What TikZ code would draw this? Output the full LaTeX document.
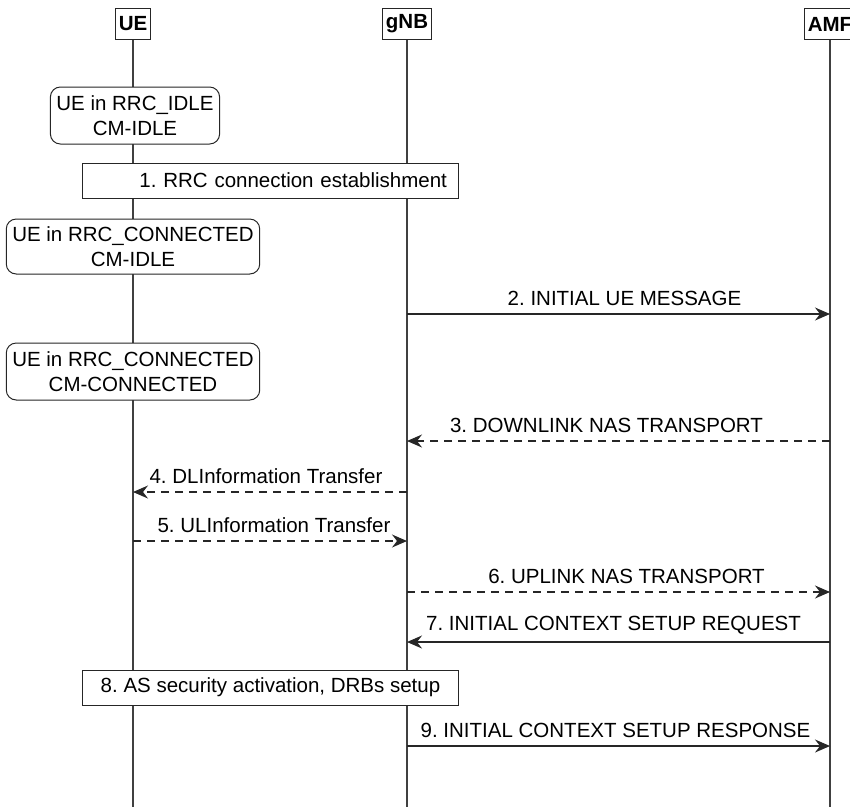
\documentclass[tikz,border=0pt]{standalone}
\usepackage{fontspec}
\setmainfont{Liberation Sans}
\usetikzlibrary{positioning,arrows.meta}
\frenchspacing

\begin{document}
\begin{tikzpicture}[
    x=1pt, y=-1pt,
    font=\fontsize{20.5}{25.5}\selectfont,
    >={Stealth[length=15pt,width=13pt,inset=5pt]},
    entity/.style={
        draw=black!85,
        line width=1pt,
        fill=white,
        inner sep=3.5pt,
        minimum height=31pt,
        font=\bfseries\fontsize{20.5}{24}\selectfont
    },
    lifeline/.style={line width=1.1pt, draw=black!75},
    statebox/.style={
        draw=black!85,
        line width=1pt,
        fill=white,
        rounded corners=10pt,
        align=center,
        inner xsep=6pt,
        minimum height=57pt
    },
    actionbox/.style={
        draw=black!85,
        line width=1pt,
        fill=white,
        minimum width=376pt,
        minimum height=35pt
    },
    msg/.style={->, line width=1.1pt, draw=black!85},
    dashmsg/.style={msg, dash pattern=on 8pt off 6pt},
    lbl/.style={above, inner sep=7.5pt}
]
\useasboundingbox (0,0) rectangle (850,807);

% entities
\node[entity] (ue) at (133,24) {UE};
\node[entity] (gnb) at (407,24) {gNB};
\node[entity] (amf) at (830,24) {AMF};
\coordinate (bot) at (0,807);

\draw[lifeline] (ue.south) -- (ue |- bot);
\draw[lifeline] (gnb.south) -- (gnb |- bot);
\draw[lifeline] (amf.south) -- (amf |- bot);

% UE states
\node[statebox] (idle) at (135,115.5) {UE in RRC\_IDLE\\CM-IDLE};
\node[actionbox, text width=354pt, align=right, inner xsep=11pt] (rrc) at (270,180.5) {1. RRC connection establishment};
\node[statebox, minimum height=55pt] (conn) at (133,246.5) {UE in RRC\_CONNECTED\\CM-IDLE};
\node[statebox] (cmconn) at (133,371.5) {UE in RRC\_CONNECTED\\CM-CONNECTED};
\node[actionbox] (sec) at (270.5,687.5) {8. AS security activation, DRBs setup};

% message rows
\coordinate (y2) at (0,314);
\coordinate (y3) at (0,441);
\coordinate (y4) at (0,492);
\coordinate (y5) at (0,541);
\coordinate (y6) at (0,592);
\coordinate (y7) at (0,642);
\coordinate (y9) at (0,746);

\draw[msg] (gnb |- y2) -- node[lbl, xshift=6pt] (l2) {2. INITIAL UE MESSAGE} (amf |- y2);
\draw[dashmsg] (amf |- y3) -- node[lbl, xshift=-12pt] (l3) {3. DOWNLINK NAS TRANSPORT} (gnb |- y3);
\draw[dashmsg] (gnb |- y4) -- node[lbl, xshift=-4pt] (l4) {4. DLInformation Transfer} (ue |- y4);
\draw[dashmsg] (ue |- y5) -- node[lbl, xshift=4pt] (l5) {5. ULInformation Transfer} (gnb |- y5);
\draw[dashmsg] (gnb |- y6) -- node[lbl, xshift=8pt] (l6) {6. UPLINK NAS TRANSPORT} (amf |- y6);
\draw[msg] (amf |- y7) -- node[lbl, xshift=-5pt] (l7) {7. INITIAL CONTEXT SETUP REQUEST} (gnb |- y7);
\draw[msg] (gnb |- y9) -- node[lbl, xshift=-3pt] (l9) {9. INITIAL CONTEXT SETUP RESPONSE} (amf |- y9);
\end{tikzpicture}
\end{document}
